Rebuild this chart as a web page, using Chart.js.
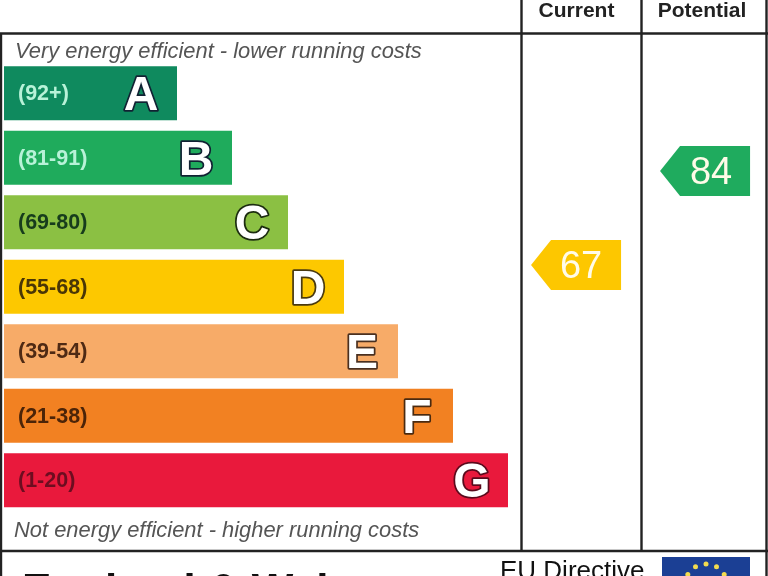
<!DOCTYPE html>
<html>
<head>
<meta charset="utf-8">
<title>Energy Efficiency Rating</title>
<script src="https://cdn.jsdelivr.net/npm/chart.js@4/dist/chart.umd.js"></script>
<style>
  html, body { margin: 0; padding: 0; background: #fff; overflow: hidden; }
  canvas { display: block; filter: blur(0.6px); }
</style>
</head>
<body>
<canvas id="chart" width="768" height="576"></canvas>
<script>
// bands, top to bottom
const bandLetters = ["A", "B", "C", "D", "E", "F", "G"]
const bandRanges = ["(92+)", "(81-91)", "(69-80)", "(55-68)", "(39-54)", "(21-38)", "(1-20)"]
const bandLengths = [173, 228, 284, 340, 394, 449, 504]

// rating pointers
const ratingColumns = ["Current", "Potential"]
const ratingValues = [67, 84]

// styles
const bandColors = ["#0f8a5e", "#1fab5c", "#8bc043", "#fdc800", "#f7ab68", "#f28122", "#e9193c"]
const rangeColors = ["#b8f2d8", "#b8f2d8", "#173c1c", "#4a3606", "#4f2a14", "#4c2408", "#6d0d20"]
const letterEdges = ["#123", "#123", "#1c2c10", "#4a3a10", "#4a3020", "#4a2a10", "#5a0a1c"]
const ratingColors = ["#fdc700", "#1fab5e"]
const frameColor = "#222"
const fontName = '"Liberation Sans", Arial, sans-serif'

// 枠線と見出しはデータと無関係なので固定位置で描く
const framePlugin = {
  id: "frame",
  beforeDatasetsDraw(chart) {
    const ctx = chart.ctx
    ctx.save()
    ctx.strokeStyle = frameColor
    ctx.lineWidth = 2.4
    const lines = [
      [0, 33.5, 768, 33.5], [0, 551, 768, 551],
      [1, 33, 1, 576], [766.5, 0, 766.5, 576],
      [521.5, 0, 521.5, 551], [641.5, 0, 641.5, 551]
    ]
    lines.forEach(([x1, y1, x2, y2]) => {
      ctx.beginPath()
      ctx.moveTo(x1, y1)
      ctx.lineTo(x2, y2)
      ctx.stroke()
    })

    ctx.textBaseline = "alphabetic"
    ctx.textAlign = "center"
    ctx.fillStyle = "#222"
    ctx.font = `bold 21px ${fontName}`
    ctx.fillText(ratingColumns[0], 576.5, 17)
    ctx.fillText(ratingColumns[1], 702, 17)

    ctx.textAlign = "left"
    ctx.fillStyle = "#555"
    ctx.font = `italic 21.9px ${fontName}`
    ctx.fillText("Very energy efficient - lower running costs", 15, 58)
    ctx.fillText("Not energy efficient - higher running costs", 14, 537)

    ctx.fillStyle = "#111"
    ctx.font = `bold 44px ${fontName}`
    ctx.fillText("England & Wales", 22, 605)
    ctx.font = `26px ${fontName}`
    ctx.fillText("EU Directive", 500, 579)

    // EU flag, only its top edge is in the picture
    ctx.fillStyle = "#1b3f94"
    ctx.fillRect(662, 557, 88, 19)
    ctx.fillStyle = "#f2dc50"
    for (let i = 0; i < 12; i++) {
      const a = i * Math.PI / 6
      ctx.beginPath()
      ctx.arc(706 + 21 * Math.sin(a), 585 - 21 * Math.cos(a), 2.5, 0, Math.PI * 2)
      ctx.fill()
    }
    ctx.restore()
  }
}

// バーの中のラベルとポインタ
const labelPlugin = {
  id: "labels",
  afterDatasetsDraw(chart) {
    const ctx = chart.ctx
    ctx.save()
    ctx.textBaseline = "middle"
    chart.getDatasetMeta(0).data.forEach((bar, i) => {
      ctx.textAlign = "left"
      ctx.fillStyle = rangeColors[i]
      ctx.font = `bold 21.5px ${fontName}`
      ctx.fillText(bandRanges[i], 18, bar.y + 1)

      ctx.textAlign = "center"
      ctx.font = `bold 48px ${fontName}`
      ctx.lineJoin = "round"
      ctx.lineWidth = 3.5
      ctx.strokeStyle = letterEdges[i]
      ctx.strokeText(bandLetters[i], bar.x - 36, bar.y + 4)
      ctx.fillStyle = "#fff"
      ctx.fillText(bandLetters[i], bar.x - 36, bar.y + 4)
    })

    ratingValues.forEach((value, i) => {
      const { x, y } = chart.getDatasetMeta(i + 1).data[0]
      ctx.fillStyle = ratingColors[i]
      ctx.beginPath()
      ctx.moveTo(x - 45, y)
      ctx.lineTo(x - 25, y - 25)
      ctx.lineTo(x + 45, y - 25)
      ctx.lineTo(x + 45, y + 25)
      ctx.lineTo(x - 25, y + 25)
      ctx.closePath()
      ctx.fill()

      ctx.fillStyle = "#fffbe8"
      ctx.font = `38px ${fontName}`
      ctx.textAlign = "center"
      ctx.fillText(String(value), x + (i === 0 ? 5 : 6), y + 3)
    })
    ctx.restore()
  }
}

new Chart(document.getElementById("chart"), {
  type: "bar",
  data: {
    labels: bandLetters,
    datasets: [
      {
        data: bandLengths,
        backgroundColor: bandColors,
        barPercentage: 0.84,
        categoryPercentage: 1,
        // v4.5 は軸の数でバー幅を割るので、グループ化を切っておく
        grouped: false
      },
      ...ratingValues.map((value, i) => ({
        type: "scatter",
        data: [{ x: i, y: value }],
        xAxisID: "xColumn",
        yAxisID: "yRating",
        pointRadius: 0
      }))
    ]
  },
  options: {
    indexAxis: "y",
    responsive: false,
    animation: false,
    devicePixelRatio: 1,
    layout: { padding: { left: 4, right: 0, top: 61, bottom: 63.5 } },
    plugins: {
      legend: { display: false },
      tooltip: { enabled: false }
    },
    scales: {
      x: { type: "linear", min: 0, max: 764, display: false },
      y: { type: "category", display: false },
      xColumn: { axis: "x", type: "linear", min: -4.434, max: 1.488, display: false },
      yRating: { axis: "y", type: "linear", min: 22.2, max: 103.9, offset: false, display: false }
    }
  },
  plugins: [framePlugin, labelPlugin]
})
</script>
</body>
</html>
